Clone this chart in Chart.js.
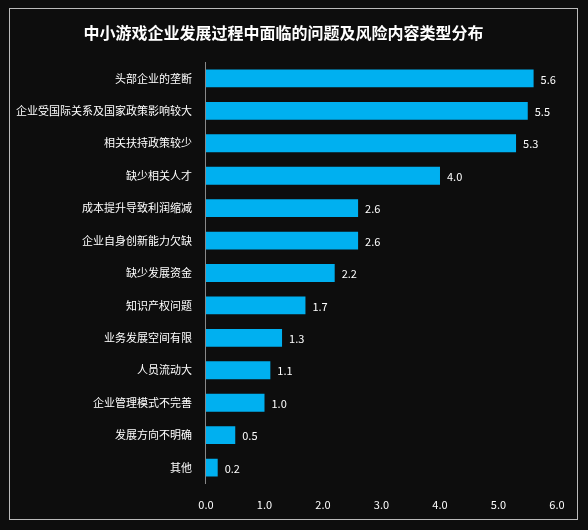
<!DOCTYPE html>
<html>
<head>
<meta charset="utf-8">
<script src="https://cdn.jsdelivr.net/npm/chart.js@4/dist/chart.umd.min.js"></script>
<style>
  body { margin: 0; background: #0d0d0d; }
  #box { position: absolute; left: 9px; top: 8px; width: 567px; height: 510px; border: 1px solid #bbb; background: #0d0d0d; }
</style>
</head>
<body>
<div id="box"><canvas id="chart"></canvas></div>
<script>
// 数据
let categories = ['头部企业的垄断', '企业受国际关系及国家政策影响较大', '相关扶持政策较少', '缺少相关人才', '成本提升导致利润缩减', '企业自身创新能力欠缺', '缺少发展资金', '知识产权问题', '业务发展空间有限', '人员流动大', '企业管理模式不完善', '发展方向不明确', '其他'];
let values = [5.6, 5.5, 5.3, 4.0, 2.6, 2.6, 2.2, 1.7, 1.3, 1.1, 1.0, 0.5, 0.2];
let xTicks = [0, 1, 2, 3, 4, 5, 6];

const font = '"Noto Sans CJK SC", sans-serif';

// 数值标签
const valueLabels = {
  id: 'valueLabels',
  afterDatasetsDraw(chart) {
    const ctx = chart.ctx;
    ctx.save();
    ctx.fillStyle = '#fff';
    ctx.font = '11px ' + font;
    ctx.textBaseline = 'middle';
    chart.getDatasetMeta(0).data.forEach((bar, i) => {
      ctx.fillText(values[i].toFixed(1), bar.x + 7, bar.y + 1);
    });
    ctx.restore();
  }
};

let box = document.getElementById('box');
let canvas = document.getElementById('chart');
canvas.width = 567; canvas.height = 510;

new Chart(canvas, {
  type: 'bar',
  data: {
    labels: categories,
    datasets: [{ data: values, backgroundColor: '#00b0f0', categoryPercentage: 0.55, barPercentage: 1 }]
  },
  options: {
    indexAxis: 'y',
    responsive: false,
    animation: false,
    layout: { padding: { left: 0, right: 20, top: 0, bottom: 2 } },
    plugins: {
      legend: { display: false },
      tooltip: { enabled: false },
      title: {
        display: true,
        text: '中小游戏企业发展过程中面临的问题及风险内容类型分布',
        color: '#fff',
        font: { family: font, size: 16, weight: 'bold' },
        padding: { top: 14, bottom: 20 }
      }
    },
    scales: {
      x: {
        min: 0, max: 6,
        afterBuildTicks(axis) { axis.ticks = xTicks.map(v => ({ value: v })); },
        grid: { display: false },
        border: { display: false },
        ticks: { color: '#fff', font: { family: font, size: 11 }, callback: v => v.toFixed(1), padding: 6 }
      },
      y: {
        grid: { display: false },
        border: { display: true, color: '#888' },
        ticks: { color: '#fff', font: { family: font, size: 11 }, padding: 6 }
      }
    }
  },
  plugins: [valueLabels]
});
</script>
</body>
</html>
